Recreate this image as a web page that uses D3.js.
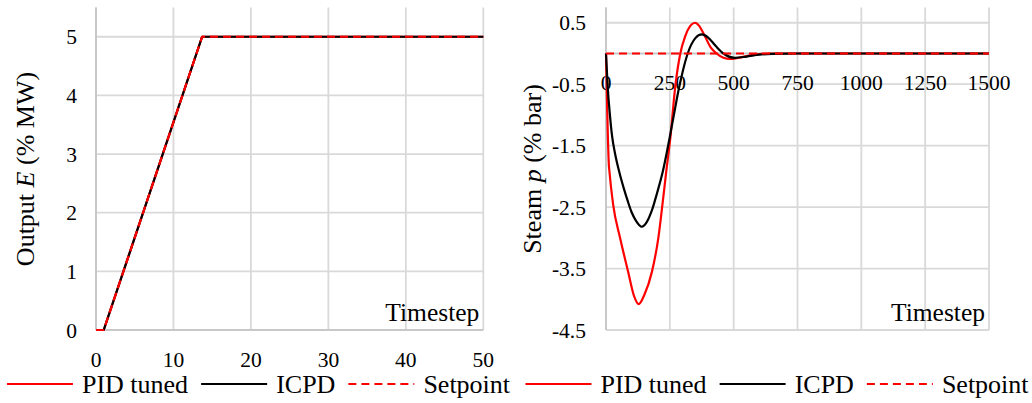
<!DOCTYPE html>
<html><head><meta charset="utf-8">
<script src="https://cdn.jsdelivr.net/npm/d3@7"></script>
<style>body{margin:0;background:#fff}svg{display:block}</style>
</head><body>
<svg id="c" width="1032" height="403" font-family="'Liberation Serif', 'Times New Roman', serif"></svg>
<script>
// ---------- data ----------
const leftXTicks = [0, 10, 20, 30, 40, 50];
const leftYTicks = [0, 1, 2, 3, 4, 5];
const leftSteps = [0, 1, 13.7, 50];
const leftPID = [0, 0, 5, 5];
const leftICPD = [0, 0, 5, 5];
const leftSetpoint = [0, 0, 5, 5];

const rightXTicks = [0, 250, 500, 750, 1000, 1250, 1500];
const rightYTicks = [0.5, -0.5, -1.5, -2.5, -3.5, -4.5];
const rightYTickLabels = ["0.5", "-0.5", "-1.5", "-2.5", "-3.5", "-4.5"];
const pidSteps = [0, 3, 7, 11, 13, 28, 55, 86, 110, 128, 150, 180, 205, 221, 236, 251, 272, 291, 310, 330, 348, 365, 385, 410, 433, 460, 486, 520, 560, 600, 650, 750, 1000, 1250, 1500];
const pidValues = [0, -0.6, -1.3, -1.8, -1.9, -2.46, -3.0, -3.54, -3.95, -4.08, -3.93, -3.55, -3.0, -2.46, -1.92, -1.41, -0.51, 0, 0.28, 0.45, 0.5, 0.45, 0.3, 0.1, 0, -0.07, -0.09, -0.07, -0.035, -0.01, 0, 0, 0, 0, 0];
const icpdSteps = [0, 6, 16, 24, 35, 52, 70, 85, 100, 117, 140, 160, 180, 200, 222, 247, 265, 283, 300, 320, 350, 375, 400, 430, 460, 505, 550, 600, 650, 750, 1000, 1250, 1500];
const icpdValues = [0, -0.5, -1.03, -1.35, -1.62, -1.93, -2.2, -2.4, -2.58, -2.72, -2.82, -2.74, -2.55, -2.27, -1.93, -1.42, -1.02, -0.62, -0.3, 0, 0.25, 0.31, 0.26, 0.12, 0, -0.07, -0.05, -0.02, -0.005, 0, 0, 0, 0];
const setSteps = [0, 1500];
const setValues = [0, 0];

const legendItems = ["PID tuned", "ICPD", "Setpoint"];

// ---------- drawing ----------
const svg = d3.select("#c");
const RED = "#ff0000", GRID = "#d9d9d9", FONT = "'Liberation Serif', 'Times New Roman', serif";

function txt(sel) { return sel.append("text").attr("font-family", FONT).attr("fill", "#000"); }

function panel(o) {
  const g = svg.append("g");
  const x = d3.scaleLinear().domain(o.xDomain).range(o.xRange);
  const y = d3.scaleLinear().domain(o.yDomain).range([330, 7.4]);
  g.selectAll(".vg").data(o.xTicks).join("line")
    .attr("x1", d => x(d)).attr("x2", d => x(d)).attr("y1", 7.4).attr("y2", 330)
    .attr("stroke", GRID).attr("stroke-width", 1.8);
  g.selectAll(".hg").data(o.yTicks).join("line")
    .attr("x1", o.xRange[0]).attr("x2", o.xRange[1]).attr("y1", d => y(d)).attr("y2", d => y(d))
    .attr("stroke", GRID).attr("stroke-width", 1.8);
  g.append("line").attr("x1", o.xRange[0]).attr("x2", o.xRange[0]).attr("y1", 7.4).attr("y2", 330)
    .attr("stroke", "#c8c8c8").attr("stroke-width", 2);
  g.append("line").attr("x1", o.xRange[0]).attr("x2", o.xRange[1]).attr("y1", y(0)).attr("y2", y(0))
    .attr("stroke", "#c8c8c8").attr("stroke-width", 2);
  g.selectAll(".yl").data(o.yTicks).join("text")
    .attr("font-family", FONT)
    .attr("x", o.yLabelX).attr("y", d => y(d)).attr("dy", "0.35em")
    .attr("text-anchor", "end").attr("font-size", 21.5)
    .text((d, i) => o.yLabels ? o.yLabels[i] : d);
  g.selectAll(".xl").data(o.xTicks).join("text")
    .attr("font-family", FONT)
    .attr("x", d => x(d)).attr("y", o.xLabelY)
    .attr("text-anchor", "middle").attr("font-size", 21.5).text(d => d);
  const line = d3.line().x(d => x(d[0])).y(d => y(d[1])).curve(o.curve);
  o.series.forEach(s => {
    g.append("path").datum(d3.zip(s.steps, s.values))
      .attr("d", line).attr("fill", "none").attr("stroke", s.color)
      .attr("stroke-width", 2.2).attr("stroke-dasharray", s.dash || null)
      .attr("stroke-linejoin", "round");
  });
  txt(g).attr("x", o.xRange[1] - 4).attr("y", 321).attr("text-anchor", "end")
    .attr("font-size", 25.5).text("Timestep");
  const t = txt(g).attr("transform", `translate(${o.titleX},169) rotate(-90)`)
    .attr("text-anchor", "middle").attr("font-size", 26);
  t.append("tspan").text(o.title[0]);
  t.append("tspan").attr("font-style", "italic").text(o.title[1]);
  t.append("tspan").text(o.title[2]);
  const colors = [RED, "#000", RED], dashes = [null, null, "8,5"];
  const lg = g.append("g");
  let cx = 0;
  legendItems.forEach((name, i) => {
    lg.append("line").attr("x1", cx).attr("x2", cx + 66).attr("y1", 384).attr("y2", 384)
      .attr("stroke", colors[i]).attr("stroke-width", 2.2).attr("stroke-dasharray", dashes[i]);
    const tx = txt(lg).attr("x", cx + 75).attr("y", 393).attr("font-size", 26).text(name);
    const w = tx.node().getComputedTextLength();
    cx += 75 + w + (i < 2 ? 13 : 0);
  });
  lg.attr("transform", `translate(${o.legendCenter - cx / 2},0)`);
}

panel({
  xDomain: [0, 50], xRange: [96, 483.3], yDomain: [0, 5.5],
  xTicks: leftXTicks, yTicks: leftYTicks, yLabelX: 77, xLabelY: 367,
  curve: d3.curveLinear,
  series: [
    {steps: leftSteps, values: leftPID, color: RED},
    {steps: leftSteps, values: leftICPD, color: "#000"},
    {steps: leftSteps, values: leftSetpoint, color: RED, dash: "8,5"}
  ],
  title: ["Output ", "E", " (% MW)"], titleX: 34, legendCenter: 258.5
});

panel({
  xDomain: [0, 1500], xRange: [606, 989], yDomain: [-4.5, 0.75],
  xTicks: rightXTicks, yTicks: rightYTicks, yLabels: rightYTickLabels, yLabelX: 586, xLabelY: 90,
  curve: d3.curveMonotoneX,
  series: [
    {steps: pidSteps, values: pidValues, color: RED},
    {steps: icpdSteps, values: icpdValues, color: "#000"},
    {steps: setSteps, values: setValues, color: RED, dash: "8,5"}
  ],
  title: ["Steam ", "p", " (% bar)"], titleX: 541, legendCenter: 777
});
</script>
</body></html>
